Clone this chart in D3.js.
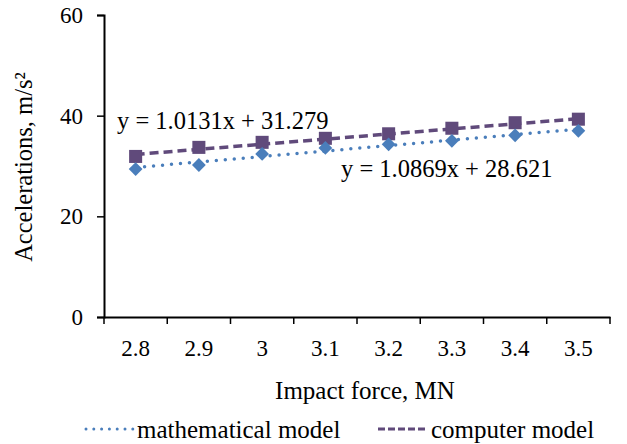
<!DOCTYPE html>
<html>
<head>
<meta charset="utf-8">
<script src="https://cdn.jsdelivr.net/npm/d3@7"></script>
<style>
body { margin: 0; background: #fff; }
svg text { font-family: "Liberation Serif", "Times New Roman", serif; fill: #000; }
</style>
</head>
<body>
<svg width="627" height="444"></svg>
<script>
var forces = ["2.8", "2.9", "3", "3.1", "3.2", "3.3", "3.4", "3.5"];
var mathModel = [29.4, 30.2, 32.4, 33.6, 34.3, 35.0, 36.1, 37.0];
var compModel = [31.9, 33.7, 34.7, 35.5, 36.4, 37.5, 38.6, 39.3];
var yTicks = [0, 20, 40, 60];
// trendline coefficients as shown on the chart
var mathTrend = [1.0869, 28.621];
var compTrend = [1.0131, 31.279];

var svg = d3.select("svg"),
	margin = {top: 15, left: 104, right: 17, bottom: 127},
	width = 627 - margin.left - margin.right,
	height = 444 - margin.top - margin.bottom;

var blue = "#4a7ebb", purple = "#604a7b";

var x = d3.scaleBand().domain(forces).range([0, width]).padding(0);
var y = d3.scaleLinear().domain([0, 60]).range([height, 0]);

var g = svg.append("g").attr("transform", "translate(" + margin.left + "," + margin.top + ")");

var yAxis = g.append("g")
	.call(d3.axisLeft(y).tickValues(yTicks).tickSize(7).tickPadding(14));
var xAxis = g.append("g")
	.attr("transform", "translate(0," + height + ")")
	.call(d3.axisBottom(x).tickSize(0).tickPadding(23));

// category boundary ticks
xAxis.selectAll(".bound")
	.data(d3.range(forces.length + 1))
	.enter().append("line")
	.attr("x1", function(i) { return i * x.step(); })
	.attr("x2", function(i) { return i * x.step(); })
	.attr("y1", 0).attr("y2", 7)
	.attr("stroke", "#000").attr("stroke-width", 1.5);

[yAxis, xAxis].forEach(function(a) {
	a.select(".domain").attr("stroke", "#000").attr("stroke-width", 2);
	a.selectAll(".tick line").attr("stroke", "#000").attr("stroke-width", 1.5);
	a.selectAll("text").style("font-size", "23px").attr("font-family", null);
});

function cx(i) { return x(forces[i]) + x.bandwidth() / 2; }

function trendLine(coef, color, dash, cap) {
	var pts = [0, forces.length - 1];
	g.append("path")
		.attr("d", d3.line()
			.x(function(i) { return cx(i); })
			.y(function(i) { return y(coef[0] * (i + 1) + coef[1]); })(pts))
		.attr("fill", "none")
		.attr("stroke", color)
		.attr("stroke-width", 3.5)
		.attr("stroke-linecap", cap)
		.attr("stroke-dasharray", dash);
}

trendLine(compTrend, purple, "9,5", "butt");
trendLine(mathTrend, blue, "0,9", "round");

var square = d3.symbol(d3.symbolSquare, 170);
var diamond = d3.symbol(d3.symbolSquare, 95);

g.selectAll(".comp")
	.data(compModel)
	.enter().append("path")
	.attr("class", "comp")
	.attr("d", square)
	.attr("transform", function(d, i) { return "translate(" + cx(i) + "," + y(d) + ")"; })
	.attr("fill", purple);

g.selectAll(".math")
	.data(mathModel)
	.enter().append("path")
	.attr("class", "math")
	.attr("d", diamond)
	.attr("transform", function(d, i) { return "translate(" + cx(i) + "," + y(d) + ") rotate(45)"; })
	.attr("fill", blue);

// equations
svg.append("text")
	.attr("x", 117).attr("y", 129)
	.style("font-size", "24.5px")
	.text("y = 1.0131x + 31.279");
svg.append("text")
	.attr("x", 341).attr("y", 177)
	.style("font-size", "24.5px")
	.text("y = 1.0869x + 28.621");

// axis titles
svg.append("text")
	.attr("x", 365).attr("y", 399)
	.attr("text-anchor", "middle")
	.style("font-size", "25px")
	.text("Impact force, MN");
svg.append("text")
	.attr("transform", "translate(32,167) rotate(-90)")
	.attr("text-anchor", "middle")
	.style("font-size", "24.5px")
	.text("Accelerations, m/s²");

// legend
var legend = [
	{name: "mathematical model", color: blue, dash: "0,7.8", cap: "round", x: 86, w: 47},
	{name: "computer model", color: purple, dash: "7,3", cap: "butt", x: 378, w: 49}
];
var lg = svg.selectAll(".lg").data(legend).enter().append("g")
	.attr("transform", function(d) { return "translate(" + d.x + ",429)"; });
lg.append("line")
	.attr("x1", 0).attr("x2", function(d) { return d.w; })
	.attr("stroke", function(d) { return d.color; })
	.attr("stroke-width", 3)
	.attr("stroke-linecap", function(d) { return d.cap; })
	.attr("stroke-dasharray", function(d) { return d.dash; });
lg.append("text")
	.attr("x", function(d) { return d.w + 4; }).attr("y", 9)
	.style("font-size", "25px")
	.text(function(d) { return d.name; });
</script>
</body>
</html>
